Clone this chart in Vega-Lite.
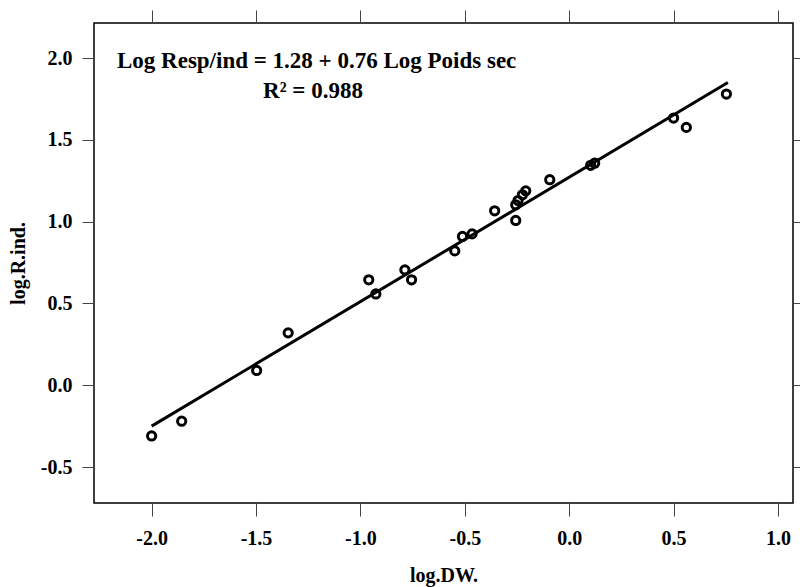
{
  "$schema": "https://vega.github.io/schema/vega-lite/v6.json",
  "autosize": {"type": "none"},
  "width": 699,
  "height": 480,
  "padding": {"left": 94, "top": 23, "right": 7, "bottom": 84},
  "background": "white",
  "config": {
    "view": {"stroke": "black", "strokeWidth": 1.5},
    "font": "Liberation Serif",
    "axis": {
      "domain": false,
      "grid": false,
      "tickColor": "#444",
      "tickWidth": 1,
      "labelFont": "Liberation Serif",
      "labelFontWeight": "bold",
      "labelFontSize": 20,
      "labelColor": "black",
      "titleFont": "Liberation Serif",
      "titleFontWeight": "bold",
      "titleFontSize": 20,
      "titleColor": "black"
    }
  },
  "datasets": {
    "pts": [
      {"logDW": -2.00, "logR": -0.31},
      {"logDW": -1.856, "logR": -0.22},
      {"logDW": -1.497, "logR": 0.09},
      {"logDW": -1.346, "logR": 0.32},
      {"logDW": -0.960, "logR": 0.644},
      {"logDW": -0.926, "logR": 0.558},
      {"logDW": -0.787, "logR": 0.705},
      {"logDW": -0.755, "logR": 0.644},
      {"logDW": -0.548, "logR": 0.821},
      {"logDW": -0.511, "logR": 0.909},
      {"logDW": -0.465, "logR": 0.925},
      {"logDW": -0.357, "logR": 1.066},
      {"logDW": -0.256, "logR": 1.007},
      {"logDW": -0.256, "logR": 1.103},
      {"logDW": -0.245, "logR": 1.129},
      {"logDW": -0.224, "logR": 1.164},
      {"logDW": -0.208, "logR": 1.188},
      {"logDW": -0.093, "logR": 1.256},
      {"logDW": 0.103, "logR": 1.344},
      {"logDW": 0.122, "logR": 1.357},
      {"logDW": 0.500, "logR": 1.633},
      {"logDW": 0.561, "logR": 1.576},
      {"logDW": 0.753, "logR": 1.78}
    ],
    "fit": [
      {"logDW": -2.0, "logR": -0.25},
      {"logDW": 0.76, "logR": 1.85}
    ],
    "notes": [
      {"logDW": -2.166, "logR": 1.939, "label": "Log Resp/ind = 1.28 + 0.76 Log Poids sec"},
      {"logDW": -1.466, "logR": 1.755, "label": "R² = 0.988"}
    ]
  },
  "resolve": {
    "scale": {"x": "independent", "y": "independent"},
    "axis": {"x": "independent", "y": "independent"}
  },
  "layer": [
    {
      "data": {"name": "pts"},
      "mark": {"type": "point", "shape": "circle", "filled": false, "stroke": "black", "strokeWidth": 3, "size": 68, "opacity": 1},
      "encoding": {
        "x": {
          "field": "logDW", "type": "quantitative",
          "scale": {"domain": [-2.276, 1.072], "nice": false, "zero": false},
          "axis": {
            "orient": "bottom", "title": "log.DW.",
            "values": [-2, -1.5, -1, -0.5, 0, 0.5, 1],
            "format": ".1f",
            "labelExpr": "replace(datum.label, '−', '-')",
            "tickSize": 13, "labelPadding": 12,
            "titleY": 72, "titleBaseline": "middle", "titlePadding": 0
          }
        },
        "y": {
          "field": "logR", "type": "quantitative",
          "scale": {"domain": [-0.72, 2.214], "nice": false, "zero": false},
          "axis": {
            "orient": "left", "title": "log.R.ind.",
            "values": [-0.5, 0, 0.5, 1, 1.5, 2],
            "format": ".1f",
            "labelExpr": "replace(datum.label, '−', '-')",
            "tickSize": 12, "labelPadding": 10,
            "titleX": -76, "titleY": 240, "titleAngle": -90,
            "titleAlign": "center", "titleBaseline": "middle"
          }
        }
      }
    },
    {
      "data": {"name": "fit"},
      "mark": {"type": "line", "stroke": "black", "strokeWidth": 3},
      "encoding": {
        "x": {
          "field": "logDW", "type": "quantitative",
          "scale": {"domain": [-2.276, 1.072], "nice": false, "zero": false},
          "axis": {
            "orient": "top", "title": null, "labels": false,
            "values": [-2, -1.5, -1, -0.5, 0, 0.5, 1],
            "tickSize": 13
          }
        },
        "y": {
          "field": "logR", "type": "quantitative",
          "scale": {"domain": [-0.72, 2.214], "nice": false, "zero": false},
          "axis": {
            "orient": "right", "title": null, "labels": false,
            "values": [-0.5, 0, 0.5, 1, 1.5, 2],
            "tickSize": 8
          }
        }
      }
    },
    {
      "data": {"name": "notes"},
      "mark": {"type": "text", "align": "left", "baseline": "alphabetic", "font": "Liberation Serif", "fontWeight": "bold", "fontSize": 23, "color": "black"},
      "encoding": {
        "x": {"field": "logDW", "type": "quantitative", "scale": {"domain": [-2.276, 1.072], "nice": false, "zero": false}, "axis": null},
        "y": {"field": "logR", "type": "quantitative", "scale": {"domain": [-0.72, 2.214], "nice": false, "zero": false}, "axis": null},
        "text": {"field": "label"}
      }
    }
  ]
}
